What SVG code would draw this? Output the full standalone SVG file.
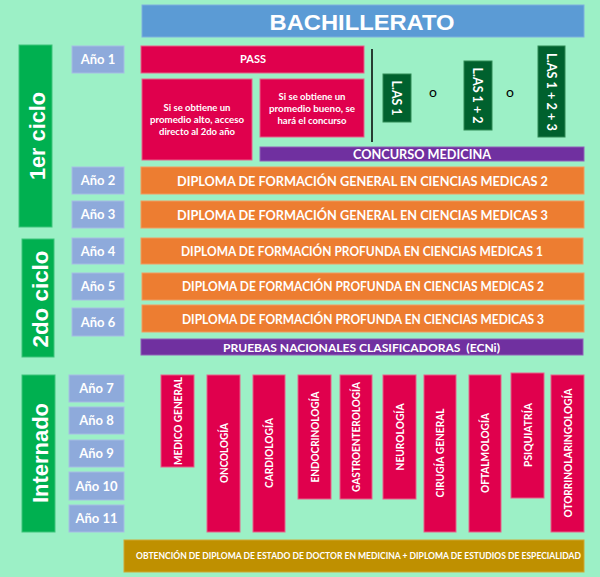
<svg xmlns="http://www.w3.org/2000/svg" width="600" height="577" viewBox="0 0 600 577">
<style>
.t{font-family:Lato,"Open Sans","Liberation Sans",sans-serif;fill:#fff;font-weight:bold;text-anchor:middle}
.big{font-family:"Liberation Sans",Arial,sans-serif;font-size:22px;font-weight:bold;fill:#fff;text-anchor:middle}
.anio rect{fill:#8eaadb;stroke:#a6bde4;stroke-width:1}
.anio text{font-size:13px}
.green{fill:#00b050;stroke:#3cc47a;stroke-width:1}
.crim{fill:#e0004d;stroke:#e8608a;stroke-width:1}
.orng{fill:#ed7d31;stroke:#f29c60;stroke-width:1}
.purp{fill:#7030a0;stroke:#9060b8;stroke-width:1}
.las{fill:#00612e;stroke:#2f8a55;stroke-width:1}
.o{font-family:Lato,"Liberation Sans",sans-serif;font-size:14px;fill:#000;text-anchor:middle}
.sp{font-size:10.5px}
</style>
<rect width="600" height="577" fill="#9cf0c6"/>

<g id="bachillerato">
<rect x="142" y="5" width="442" height="32" fill="#5b9bd5" stroke="#7fb0de"/>
<text x="362" y="30" class="big" font-size="24" textLength="185" lengthAdjust="spacingAndGlyphs">BACHILLERATO</text>
</g>

<g id="ciclo1">
<rect class="green" x="19" y="45" width="33" height="182"/>
<text class="big" transform="translate(45,136) rotate(-90)" textLength="88" lengthAdjust="spacingAndGlyphs">1er ciclo</text>
</g>
<g id="ciclo2">
<rect class="green" x="22" y="239" width="32" height="118"/>
<text class="big" transform="translate(47.5,299) rotate(-90)" textLength="97" lengthAdjust="spacingAndGlyphs">2do ciclo</text>
</g>
<g id="internado">
<rect class="green" x="22" y="375" width="33" height="157"/>
<text class="big" transform="translate(47.5,453) rotate(-90)" textLength="100" lengthAdjust="spacingAndGlyphs">Internado</text>
</g>

<g class="anio">
<g id="anio1"><rect x="72" y="46" width="52" height="27"/><text class="t" x="98" y="64">Año 1</text></g>
<g id="anio2"><rect x="72" y="167" width="52" height="27"/><text class="t" x="98" y="185">Año 2</text></g>
<g id="anio3"><rect x="72" y="201" width="52" height="27"/><text class="t" x="98" y="219">Año 3</text></g>
<g id="anio4"><rect x="72" y="238" width="52" height="26"/><text class="t" x="98" y="255.5">Año 4</text></g>
<g id="anio5"><rect x="72" y="273" width="52" height="27"/><text class="t" x="98" y="291">Año 5</text></g>
<g id="anio6"><rect x="72" y="308" width="52" height="28"/><text class="t" x="98" y="326.5">Año 6</text></g>
<g id="anio7"><rect x="69" y="375" width="55" height="27"/><text class="t" x="96.5" y="393">Año 7</text></g>
<g id="anio8"><rect x="69" y="407" width="55" height="27"/><text class="t" x="96.5" y="425">Año 8</text></g>
<g id="anio9"><rect x="69" y="440" width="55" height="27"/><text class="t" x="96.5" y="458">Año 9</text></g>
<g id="anio10"><rect x="69" y="472" width="55" height="28"/><text class="t" x="96.5" y="490.5">Año 10</text></g>
<g id="anio11"><rect x="69" y="505" width="55" height="27"/><text class="t" x="96.5" y="523">Año 11</text></g>
</g>

<g id="pass">
<rect class="crim" x="141" y="46" width="223" height="27"/>
<text class="t" x="253" y="63" font-size="11">PASS</text>
</g>
<g id="alto">
<rect class="crim" x="142" y="79" width="110" height="81"/>
<text class="t" font-size="9.5" x="197" y="111">Si se obtiene un</text>
<text class="t" font-size="9.5" x="197" y="123" textLength="94" lengthAdjust="spacingAndGlyphs">promedio alto, acceso</text>
<text class="t" font-size="9.5" x="197" y="135">directo al 2do año</text>
</g>
<g id="bueno">
<rect class="crim" x="260" y="79" width="104" height="58"/>
<text class="t" font-size="9.5" x="312" y="100">Si se obtiene un</text>
<text class="t" font-size="9.5" x="312" y="112" textLength="86" lengthAdjust="spacingAndGlyphs">promedio bueno, se</text>
<text class="t" font-size="9.5" x="312" y="124">hará el concurso</text>
</g>
<g id="concurso">
<rect class="purp" x="260" y="147" width="324" height="14"/>
<text class="t" font-size="13" x="422" y="159" textLength="138" lengthAdjust="spacingAndGlyphs">CONCURSO MEDICINA</text>
</g>

<g id="divider">
<line x1="372" y1="49" x2="372" y2="142" stroke="#000" stroke-width="1.5"/>
</g>

<g id="las1">
<rect class="las" x="383" y="74" width="28" height="48"/>
<text class="t" font-weight="normal" font-size="13" transform="translate(392,98) rotate(90)" textLength="35" lengthAdjust="spacingAndGlyphs">L.AS 1</text>
</g>
<text class="o" x="433" y="97">o</text>
<g id="las12">
<rect class="las" x="464" y="61" width="28" height="69"/>
<text class="t" font-weight="normal" font-size="13" transform="translate(473,95.5) rotate(90)" textLength="56" lengthAdjust="spacingAndGlyphs">L.AS 1 + 2</text>
</g>
<text class="o" x="510" y="97">o</text>
<g id="las123">
<rect class="las" x="538" y="46" width="27" height="91"/>
<text class="t" font-weight="normal" font-size="13" transform="translate(546.5,92) rotate(90)" textLength="78" lengthAdjust="spacingAndGlyphs">L.AS 1 + 2 + 3</text>
</g>

<g id="dfgsm2"><rect class="orng" x="141" y="167" width="443" height="27"/><text class="t" font-size="13.5" x="362.5" y="186" textLength="371" lengthAdjust="spacingAndGlyphs">DIPLOMA DE FORMACIÓN GENERAL EN CIENCIAS MEDICAS 2</text></g>
<g id="dfgsm3"><rect class="orng" x="141" y="201" width="443" height="27"/><text class="t" font-size="13.5" x="362.5" y="219.5" textLength="371" lengthAdjust="spacingAndGlyphs">DIPLOMA DE FORMACIÓN GENERAL EN CIENCIAS MEDICAS 3</text></g>
<g id="dfasm1"><rect class="orng" x="141" y="238" width="442" height="26"/><text class="t" font-size="13.5" x="362" y="256" textLength="362" lengthAdjust="spacingAndGlyphs">DIPLOMA DE FORMACIÓN PROFUNDA EN CIENCIAS MEDICAS 1</text></g>
<g id="dfasm2"><rect class="orng" x="142" y="273" width="442" height="27"/><text class="t" font-size="13.5" x="363" y="291" textLength="362" lengthAdjust="spacingAndGlyphs">DIPLOMA DE FORMACIÓN PROFUNDA EN CIENCIAS MEDICAS 2</text></g>
<g id="dfasm3"><rect class="orng" x="142" y="305" width="442" height="27"/><text class="t" font-size="13.5" x="363" y="323.5" textLength="362" lengthAdjust="spacingAndGlyphs">DIPLOMA DE FORMACIÓN PROFUNDA EN CIENCIAS MEDICAS 3</text></g>

<g id="ecni">
<rect class="purp" x="141" y="339" width="442" height="16"/>
<text class="t" font-size="12" x="361.5" y="351.5" textLength="277" lengthAdjust="spacingAndGlyphs" xml:space="preserve">PRUEBAS NACIONALES CLASIFICADORAS  (ECNi)</text>
</g>

<g id="medico-general"><rect class="crim" x="161" y="375" width="33" height="92"/><text class="t sp" transform="translate(182,421) rotate(-90)" textLength="88" lengthAdjust="spacingAndGlyphs">MEDICO GENERAL</text></g>
<g id="oncologia"><rect class="crim" x="207" y="375" width="33" height="157"/><text class="t sp" transform="translate(228,453) rotate(-90)" textLength="60" lengthAdjust="spacingAndGlyphs">ONCOLOGÍA</text></g>
<g id="cardiologia"><rect class="crim" x="253" y="375" width="32" height="157"/><text class="t sp" transform="translate(273,453) rotate(-90)" textLength="70" lengthAdjust="spacingAndGlyphs">CARDIOLOGÍA</text></g>
<g id="endocrinologia"><rect class="crim" x="298" y="375" width="33" height="124"/><text class="t sp" transform="translate(319,437) rotate(-90)" textLength="91" lengthAdjust="spacingAndGlyphs">ENDOCRINOLOGÍA</text></g>
<g id="gastroenterologia"><rect class="crim" x="340" y="375" width="32" height="124"/><text class="t sp" transform="translate(360,437) rotate(-90)" textLength="110" lengthAdjust="spacingAndGlyphs">GASTROENTEROLOGÍA</text></g>
<g id="neurologia"><rect class="crim" x="383" y="375" width="33" height="124"/><text class="t sp" transform="translate(404,437) rotate(-90)" textLength="67" lengthAdjust="spacingAndGlyphs">NEUROLOGÍA</text></g>
<g id="cirugia-general"><rect class="crim" x="424" y="375" width="32" height="157"/><text class="t sp" transform="translate(444,453) rotate(-90)" textLength="89" lengthAdjust="spacingAndGlyphs">CIRUGÍA GENERAL</text></g>
<g id="oftalmologia"><rect class="crim" x="469" y="375" width="32" height="157"/><text class="t sp" transform="translate(489,453) rotate(-90)" textLength="80" lengthAdjust="spacingAndGlyphs">OFTALMOLOGÍA</text></g>
<g id="psiquiatria"><rect class="crim" x="511" y="373" width="33" height="125"/><text class="t sp" transform="translate(532,435) rotate(-90)" textLength="64" lengthAdjust="spacingAndGlyphs">PSIQUIATRÍA</text></g>
<g id="otorrinolaringologia"><rect class="crim" x="551" y="375" width="33" height="157"/><text class="t sp" transform="translate(572,453) rotate(-90)" textLength="129" lengthAdjust="spacingAndGlyphs">OTORRINOLARINGOLOGÍA</text></g>

<g id="diploma-final">
<rect x="124" y="540" width="460" height="32" fill="#bf9000" stroke="#cfa833"/>
<text class="t" font-size="8.5" x="358.5" y="559" textLength="445" lengthAdjust="spacingAndGlyphs">OBTENCIÓN DE DIPLOMA DE ESTADO DE DOCTOR EN MEDICINA + DIPLOMA DE ESTUDIOS DE ESPECIALIDAD</text>
</g>
</svg>
